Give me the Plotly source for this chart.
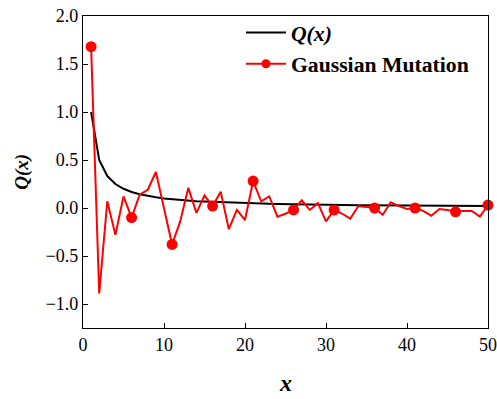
import plotly.graph_objects as go

x_vals = list(range(1, 51))
q_vals = [1.0, 0.5, 0.333, 0.25, 0.2, 0.167, 0.143, 0.125, 0.111, 0.1,
          0.091, 0.083, 0.077, 0.071, 0.067, 0.063, 0.059, 0.056, 0.053, 0.05,
          0.048, 0.045, 0.043, 0.042, 0.04, 0.038, 0.037, 0.036, 0.034, 0.033,
          0.032, 0.031, 0.03, 0.029, 0.029, 0.028, 0.027, 0.026, 0.026, 0.025,
          0.024, 0.024, 0.023, 0.023, 0.022, 0.022, 0.021, 0.021, 0.02, 0.02]
gauss_vals = [1.68, -0.89, 0.07, -0.28, 0.12, -0.10, 0.14, 0.19, 0.375, 0.0,
              -0.38, -0.14, 0.21, -0.05, 0.13, 0.02, 0.17, -0.22, -0.02, -0.125,
              0.28, 0.07, 0.12, -0.09, -0.06, -0.02, 0.08, -0.02, 0.05, -0.14,
              -0.02, -0.06, -0.11, 0.02, 0.01, 0.0, -0.07, 0.06, 0.02, -0.01,
              0.0, -0.03, -0.08, -0.01, -0.02, -0.04, -0.03, -0.03, -0.09, 0.03]
marker_x = [1, 6, 11, 16, 21, 26, 31, 36, 41, 46, 50]
marker_y = [gauss_vals[x_vals.index(m)] for m in marker_x]

x_ticks = [0, 10, 20, 30, 40, 50]
y_ticks = [-1.0, -0.5, 0.0, 0.5, 1.0, 1.5, 2.0]

FONT = "Liberation Serif, Times New Roman, serif"

fig = go.Figure()
fig.add_trace(go.Scatter(x=x_vals, y=q_vals, mode="lines",
                         line=dict(color="black", width=2),
                         name="<b><i>Q(x)</i></b>"))
fig.add_trace(go.Scatter(x=x_vals, y=gauss_vals, mode="lines",
                         line=dict(color="red", width=2),
                         showlegend=False, hoverinfo="skip"))
fig.add_trace(go.Scatter(x=marker_x, y=marker_y, mode="markers",
                         marker=dict(color="red", size=11),
                         showlegend=False, cliponaxis=False))
fig.add_trace(go.Scatter(x=[None], y=[None], mode="lines+markers",
                         line=dict(color="red", width=2),
                         marker=dict(color="red", size=9),
                         name="<b>Gaussian Mutation</b>"))

axis_common = dict(showline=True, linecolor="black", linewidth=1.2, mirror=True,
                   ticks="inside", ticklen=5, tickcolor="black", tickwidth=1,
                   showgrid=False, zeroline=False, automargin=False,
                   tickfont=dict(family=FONT, size=18, color="black"))

fig.update_layout(
    width=497, height=399,
    margin=dict(l=83, r=9, t=16, b=71),
    plot_bgcolor="white", paper_bgcolor="white",
    font=dict(family=FONT, color="black"),
    xaxis=dict(range=[0, 50], tickvals=x_ticks, **axis_common),
    yaxis=dict(range=[-1.25, 2.0], tickvals=y_ticks, tickformat=".1f", **axis_common),
    legend=dict(x=0.39, y=1.013, xanchor="left", yanchor="top",
                bgcolor="rgba(0,0,0,0)", borderwidth=0,
                font=dict(family=FONT, size=21.7, color="black"),
                tracegroupgap=0, itemwidth=40),
    showlegend=True,
    annotations=[
        dict(text="<b><i>x</i></b>", xref="paper", yref="paper",
             x=0.5, y=-0.176, xanchor="center", yanchor="middle",
             showarrow=False, font=dict(family=FONT, size=24, color="black")),
        dict(text="<b><i>Q(x)</i></b>", xref="paper", yref="paper",
             x=-0.151, y=0.5, xanchor="center", yanchor="middle", textangle=-90,
             showarrow=False, font=dict(family=FONT, size=19, color="black")),
    ],
)

fig.write_html("out.html")
